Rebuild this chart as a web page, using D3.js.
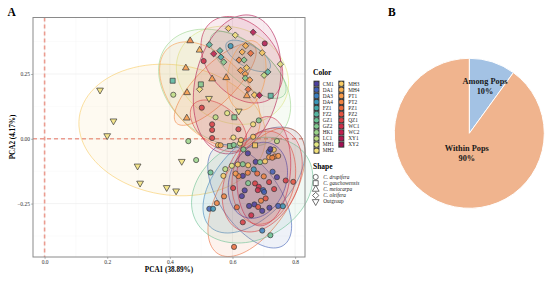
<!DOCTYPE html>
<html>
<head>
<meta charset="utf-8">
<script src="https://cdn.jsdelivr.net/npm/d3@7"></script>
<style>
body { margin: 0; background: #fff; }
svg { display: block; font-family: "Liberation Serif", serif; }
</style>
</head>
<body>
<svg width="550" height="281"></svg>
<script>
//--------------------------DATA------------------------------------------------
var pops = ["CM1","DA1","DA3","DA4","FZ1","FZ2","GZ1","GZ2","HK1","LC1","MH1","MH2",
    "MH3","MH4","PT1","PT2","PZ1","PZ2","QZ1","WC1","WC2","XY1","XY2"];
var popColors = ["#4b3f9e","#3f5fb5","#3a7fc0","#3a96b8","#42a8a8","#55b5a0","#68bf92","#80c98e","#9ad38a","#bcdd82","#e0e682","#f2e07a",
    "#f8ca62","#f8b052","#f79a4a","#f08240","#ea6a3a","#e25240","#d83c42","#cc2c48","#c01e4e","#b01650","#a01052"];
var speciesNames = ["C. drupifera","C. gauchowensis","C. meiocarpa","C. oleifera","Outgroup"];

// [pop, PCA1, PCA2]
var drupiferaPoints = [
    ["XY1",.703,.368],["DA4",.594,.358],["WC1",.508,.300],["LC1",.411,.170],["QZ1",.502,.120],["LC1",.546,.083],
    ["QZ1",.535,.056],["QZ1",.535,.034],["QZ1",.535,.003],["MH1",.583,.099],["QZ1",.619,.037],["GZ2",.684,.071],
    ["MH2",.666,.056],["MH2",.603,.005],["HK1",.459,-.009],["HK1",.484,-.082],["GZ1",.530,-.130],["PT2",.573,-.222],
    ["PT2",.550,-.248],["DA1",.526,-.270],["DA4",.538,-.270],["PZ1",.605,-.417],["QZ1",.633,-.322],["DA3",.695,-.354],
    ["GZ1",.721,-.372],["PZ1",.614,-.264],["WC1",.660,-.295],["CM1",.653,-.259],["CM1",.670,-.253],["PZ2",.682,-.263],
    ["CM1",.695,-.278],["CM1",.718,-.266],["DA1",.746,-.259],["DA4",.761,-.260],["PT2",.691,-.239],["PZ2",.706,-.230],
    ["CM1",.630,-.221],["CM1",.639,-.199],["QZ1",.602,-.190],["GZ2",.650,-.171],["QZ1",.672,-.172],["WC1",.684,-.185],
    ["WC1",.681,-.198],["DA1",.698,-.198],["DA1",.701,-.205],["QZ1",.733,-.194],["QZ1",.717,-.167],["QZ1",.770,-.161],
    ["PZ2",.794,-.166],["CM1",.742,-.148],["DA1",.728,-.127],["PT2",.700,-.145],["PZ1",.679,-.134],["PT2",.649,-.131],
    ["CM1",.633,-.143],["PT2",.619,-.144],["PT1",.610,-.134],["LC1",.577,-.117],["MH3",.571,-.143],["MH1",.598,-.104],
    ["MH3",.617,-.099],["GZ2",.633,-.098],["MH3",.650,-.102],["CM1",.674,-.089],["GZ2",.688,-.090],["MH3",.704,-.087],
    ["DA4",.668,-.118],["DA1",.716,-.050],["MH3",.732,-.042],["CM1",.721,-.040],["PT2",.735,-.068],["PT1",.746,-.066],
    ["PT1",.717,-.071],["PT2",.727,-.073],["CM1",.649,-.056],["LC1",.742,-.009],["GZ2",.635,-.041],["MH3",.554,-.024],
    ["MH4",.562,-.025],["GZ2",.604,-.024],["MH2",.624,-.018],["MH3",.627,-.005],["MH3",.666,.008]
];
var gauchowensisPoints = [
    ["FZ2",.409,.224],["GZ2",.499,.210],["FZ2",.722,.166],["GZ2",.606,.083],["MH3",.672,-.025],["GZ2",.592,-.028]
];
var meiocarpaPoints = [
    ["PT2",.465,.378],["MH4",.495,.342],["PT1",.451,.273],["PT1",.535,.231],["PT1",.580,.236],["PT1",.455,.178],
    ["PT1",.454,.080],["PT1",.646,.166]
];
var oleiferaPoints = [
    ["MH3",.587,.426],["MH2",.609,.400],["XY1",.666,.411],["MH1",.753,.288],["MH3",.695,.332],["WC2",.540,.328],
    ["FZ2",.560,.340],["FZ2",.526,.363],["FZ1",.563,.315],["GZ2",.572,.296],["MH4",.631,.335],["MH4",.642,.359],
    ["PZ1",.658,.330],["PT2",.621,.304],["GZ2",.637,.304],["MH3",.645,.274],["PT1",.626,.264],["PT1",.641,.250],
    ["GZ2",.641,.234],["PT1",.655,.227],["LC1",.701,.245],["FZ2",.713,.258],["PZ1",.650,.191],["MH3",.670,.169],
    ["XY1",.686,.168],["MH2",.495,.191]
];
var outgroupPoints = [
    ["MH2",.525,.156],["MH2",.620,.107],["MH2",.177,.188],["MH2",.220,.069],["MH2",.200,.012],["MH2",.297,-.105],
    ["MH2",.305,-.171],["MH2",.390,-.188],["MH2",.420,-.201],["MH2",.438,-.087]
];

// group ellipses: [pop, centre PCA1, centre PCA2, semi axes in PCA1 units, tilt in degrees on screen]
var ellipseRows = [
    ["MH3",.408,.034,.300,.208,8],
    ["MH1",.600,.245,.185,.150,25],
    ["HK1",.575,.195,.230,.165,35],
    ["PT1",.528,.170,.200,.120,48],
    ["PT2",.545,.210,.175,.060,-45],
    ["GZ2",.650,.285,.150,.060,40],
    ["DA4",.650,.320,.080,.035,30],
    ["XY1",.615,.210,.225,.135,-78],
    ["WC2",.630,.305,.155,.110,50],
    ["PT1",.645,.245,.112,.060,-80],
    ["QZ1",.555,.050,.105,.062,40],
    ["DA3",.669,-.159,.205,.115,-47],
    ["DA1",.655,-.222,.190,.095,55],
    ["PZ1",.677,-.206,.232,.112,-58],
    ["GZ1",.663,-.198,.205,.155,-30],
    ["PZ2",.700,-.150,.150,.100,-80],
    ["QZ1",.695,-.159,.175,.115,-65],
    ["WC1",.700,-.125,.175,.085,-85],
    ["CM1",.681,-.160,.125,.090,-70]
];

var pieNames = ["Among Pops","Within Pops"];
var pieValues = [10, 90];
var pieColors = ["#a3c2e4","#f0b48e"];

var xTicks = [0, 0.2, 0.4, 0.6, 0.8];
var yTicks = [-0.25, 0, 0.25];

//--------------------------SETUP-----------------------------------------------
var svg = d3.select("svg");
var panel = { left: 33, right: 305, top: 17.5, bottom: 257 };
var x = d3.scaleLinear().domain([-0.037, 0.8316]).range([panel.left, panel.right]);
var y = d3.scaleLinear().domain([-0.456, 0.468]).range([panel.bottom, panel.top]);
var color = d3.scaleOrdinal().domain(pops).range(popColors);

var shapes = {};
shapes[speciesNames[0]] = d3.symbol().type(d3.symbolCircle).size(21);
shapes[speciesNames[1]] = d3.symbol().type(d3.symbolSquare).size(25);
shapes[speciesNames[2]] = d3.symbol().type(d3.symbolTriangle).size(20);
shapes[speciesNames[3]] = d3.symbol().type(d3.symbolSquare).size(20);
shapes[speciesNames[4]] = d3.symbol().type(d3.symbolTriangle).size(20);
var shapeRotate = {};
shapeRotate[speciesNames[3]] = 45;
shapeRotate[speciesNames[4]] = 180;

function placeShape(name, px, py) {
    return "translate(" + px + "," + py + ") rotate(" + (shapeRotate[name] || 0) + ")";
}

//--------------------------PANEL A---------------------------------------------
var grid = svg.append("g");
var xMinor = [0.1, 0.3, 0.5, 0.7];
var yMinor = [-0.375, -0.125, 0.125, 0.375];
grid.selectAll(".vminor").data(xMinor).enter().append("line")
    .attr("x1", d => x(d)).attr("x2", d => x(d)).attr("y1", panel.top).attr("y2", panel.bottom)
    .style("stroke", "#f6f6f6").style("stroke-width", 0.5);
grid.selectAll(".hminor").data(yMinor).enter().append("line")
    .attr("y1", d => y(d)).attr("y2", d => y(d)).attr("x1", panel.left).attr("x2", panel.right)
    .style("stroke", "#f6f6f6").style("stroke-width", 0.5);
grid.selectAll(".vmajor").data(xTicks).enter().append("line")
    .attr("x1", d => x(d)).attr("x2", d => x(d)).attr("y1", panel.top).attr("y2", panel.bottom)
    .style("stroke", "#eeeeee").style("stroke-width", 0.7);
grid.selectAll(".hmajor").data(yTicks).enter().append("line")
    .attr("y1", d => y(d)).attr("y2", d => y(d)).attr("x1", panel.left).attr("x2", panel.right)
    .style("stroke", "#eeeeee").style("stroke-width", 0.7);

// dashed lines through zero
svg.append("line").attr("x1", x(0)).attr("x2", x(0)).attr("y1", panel.top).attr("y2", panel.bottom)
    .style("stroke", "#eb9c90").style("stroke-width", 1.6).style("stroke-dasharray", "4,3");
svg.append("line").attr("x1", panel.left).attr("x2", panel.right).attr("y1", y(0)).attr("y2", y(0))
    .style("stroke", "#eb9c90").style("stroke-width", 1.6).style("stroke-dasharray", "4,3");

// ellipses, walked round in screen space so the tilt reads as it does on the page
var unit = x(1) - x(0);
var ellipseLine = d3.line().curve(d3.curveLinearClosed);
function ellipsePath(row) {
    var rad = row[5] * Math.PI / 180;
    var pts = d3.range(0, 2 * Math.PI, Math.PI / 45).map(function(t) {
        var ex = row[3] * unit * Math.cos(t);
        var ey = row[4] * unit * Math.sin(t);
        return [x(row[1]) + ex * Math.cos(rad) - ey * Math.sin(rad),
                y(row[2]) + ex * Math.sin(rad) + ey * Math.cos(rad)];
    });
    return ellipseLine(pts);
}
svg.append("g").selectAll("path").data(ellipseRows).enter().append("path")
    .attr("d", ellipsePath)
    .style("fill", d => color(d[0])).style("fill-opacity", 0.09)
    .style("stroke", d => color(d[0])).style("stroke-opacity", 0.7).style("stroke-width", 0.85);

// points
function drawPoints(rows, name) {
    svg.append("g").selectAll("path").data(rows).enter().append("path")
        .attr("d", shapes[name]())
        .attr("transform", d => placeShape(name, x(d[1]), y(d[2])))
        .style("fill", d => color(d[0])).style("fill-opacity", 0.85)
        .style("stroke", "#3a3a3a").style("stroke-width", 0.7);
}
drawPoints(oleiferaPoints, speciesNames[3]);
drawPoints(meiocarpaPoints, speciesNames[2]);
drawPoints(gauchowensisPoints, speciesNames[1]);
drawPoints(outgroupPoints, speciesNames[4]);
drawPoints(drupiferaPoints, speciesNames[0]);

// panel border and axes
svg.append("rect").attr("x", panel.left).attr("y", panel.top)
    .attr("width", panel.right - panel.left).attr("height", panel.bottom - panel.top)
    .style("fill", "none").style("stroke", "#8a8a8a").style("stroke-width", 1);

var xAxis = d3.axisBottom(x).tickValues(xTicks).tickFormat(d3.format(".1f")).tickSize(2).tickPadding(1);
var yAxis = d3.axisLeft(y).tickValues(yTicks).tickFormat(d3.format(".2f")).tickSize(2).tickPadding(1);
var gx = svg.append("g").attr("transform", "translate(0," + panel.bottom + ")").call(xAxis);
var gy = svg.append("g").attr("transform", "translate(" + panel.left + ",0)").call(yAxis);
[gx, gy].forEach(function(g) {
    g.select(".domain").remove();
    g.selectAll("line").style("stroke", "#777").style("stroke-width", 0.5);
    g.selectAll("text").style("font-family", "Liberation Serif").style("font-size", "5.5px").style("fill", "#333");
});

svg.append("text").attr("x", 169).attr("y", 272).attr("text-anchor", "middle")
    .style("font-size", "7.2px").style("font-weight", "bold").text("PCA1 (38.89%)");
svg.append("text").attr("transform", "translate(15,137) rotate(-90)").attr("text-anchor", "middle")
    .style("font-size", "7.2px").style("font-weight", "bold").text("PCA2 (4.17%)");
svg.append("text").attr("x", 7.5).attr("y", 16).style("font-size", "11.5px").style("font-weight", "bold").text("A");
svg.append("text").attr("x", 388).attr("y", 16).style("font-size", "11.5px").style("font-weight", "bold").text("B");

//--------------------------LEGENDS---------------------------------------------
svg.append("text").attr("x", 313).attr("y", 74.5).style("font-size", "7.5px").style("font-weight", "bold").text("Color");
var keyStep = 6.09;
var columnSize = 12;
pops.forEach(function(pop, i) {
    var col = i < columnSize ? 0 : 1;
    var row = col === 0 ? i : i - columnSize;
    var kx = col === 0 ? 316.5 : 341.3;
    var tx = col === 0 ? 322.7 : 348.3;
    var ky = 83.7 + row * keyStep;
    svg.append("rect").attr("x", kx - 3).attr("y", ky - keyStep / 2).attr("width", 6).attr("height", keyStep)
        .style("fill", "#3a3a3a");
    svg.append("circle").attr("cx", kx).attr("cy", ky).attr("r", 2.3).style("fill", popColors[i]);
    svg.append("text").attr("x", tx).attr("y", ky + 1.8).style("font-size", "5.3px").style("fill", "#222").text(pop);
});

svg.append("text").attr("x", 313).attr("y", 168.5).style("font-size", "7.5px").style("font-weight", "bold").text("Shape");
speciesNames.forEach(function(name, i) {
    var ky = 177 + i * 6.15;
    svg.append("path").attr("d", shapes[name]())
        .attr("transform", placeShape(name, 315.7, ky))
        .style("fill", "#fff").style("stroke", "#333").style("stroke-width", 0.7);
    svg.append("text").attr("x", 323.3).attr("y", ky + 1.8).style("font-size", "5.3px")
        .style("font-style", i < 4 ? "italic" : "normal").style("fill", "#222").text(name);
});

//--------------------------PANEL B---------------------------------------------
var pie = d3.pie().sort(null)(pieValues);
var arc = d3.arc().innerRadius(0).outerRadius(75);
var pieGroup = svg.append("g").attr("transform", "translate(469.3,133.3)");
pieGroup.selectAll("path").data(pie).enter().append("path")
    .attr("d", arc)
    .style("fill", (d, i) => pieColors[i])
    .style("stroke", "#fff").style("stroke-width", 1);
var pieLabels = [[15.7, -49.5], [-2.5, 17.5]];
pieNames.forEach(function(name, i) {
    var t = pieGroup.append("text").attr("text-anchor", "middle")
        .attr("transform", "translate(" + pieLabels[i][0] + "," + pieLabels[i][1] + ")")
        .style("font-size", "8.3px").style("font-weight", "bold").style("fill", "#1a1a1a");
    t.append("tspan").attr("x", 0).attr("dy", 0).text(name);
    t.append("tspan").attr("x", 0).attr("dy", 9.8).text(pieValues[i] + "%");
});
</script>
</body>
</html>
